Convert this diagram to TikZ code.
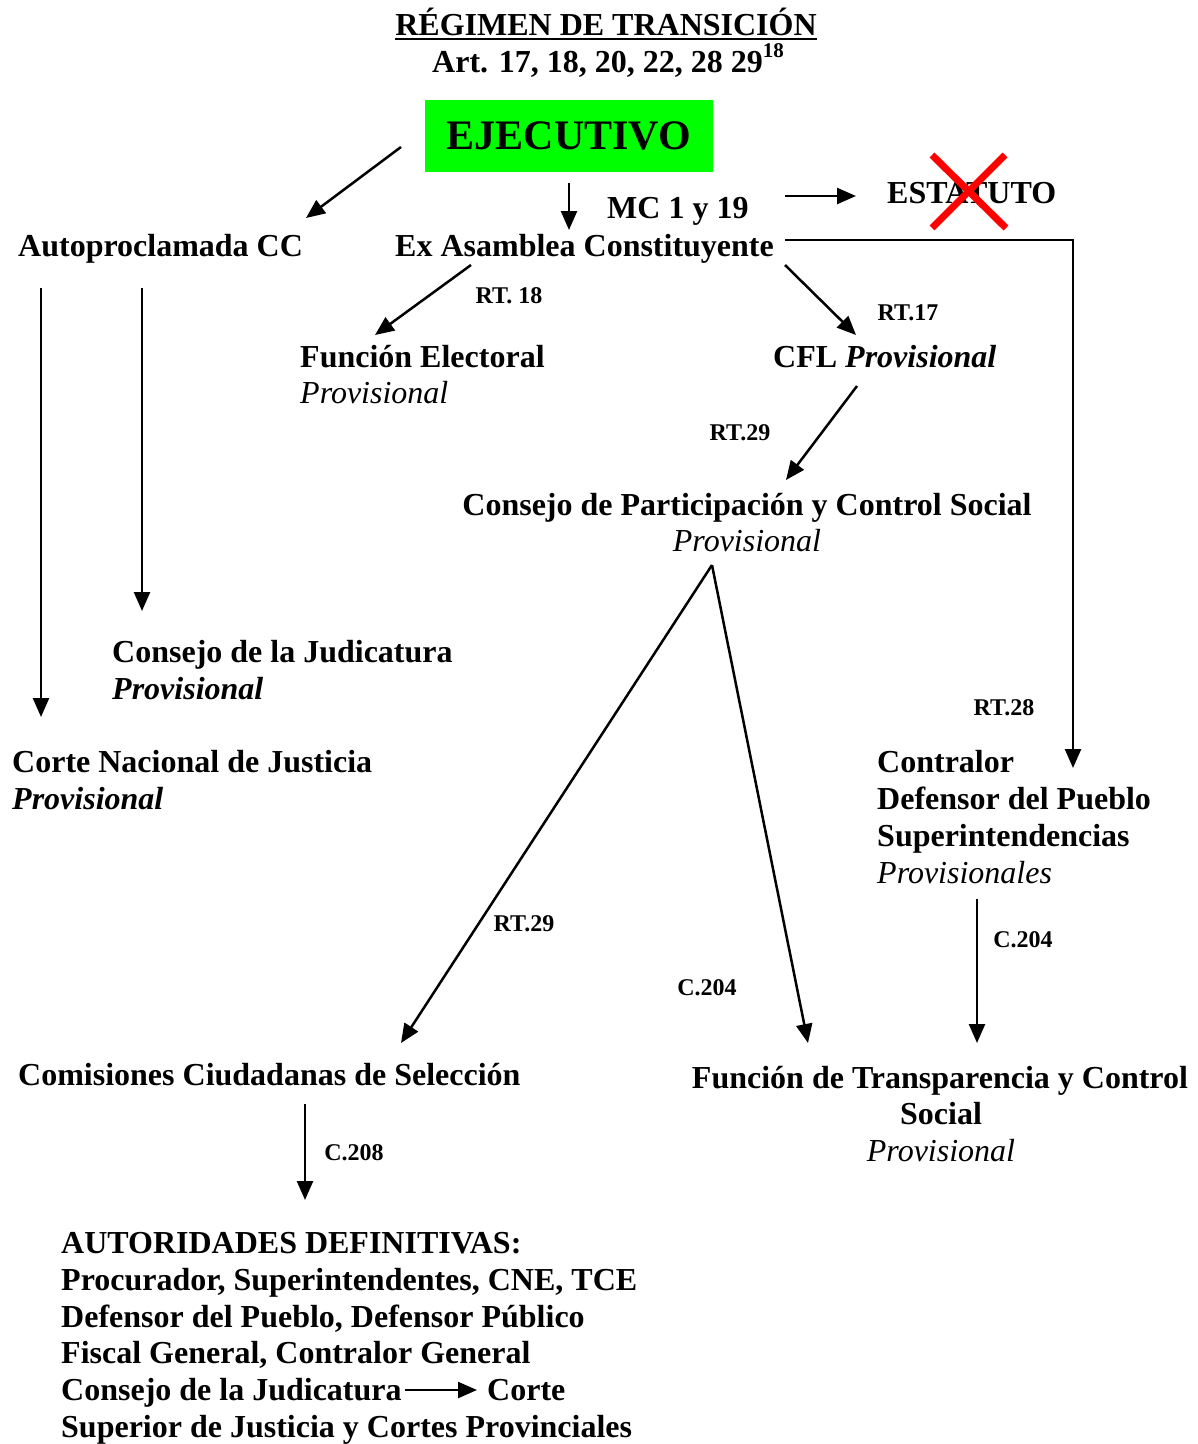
\documentclass[tikz,border=0pt]{standalone}
\usepackage{fontspec}
\setmainfont{Liberation Serif}
\usetikzlibrary{arrows.meta}
\definecolor{exgreen}{RGB}{0,255,0}
\definecolor{xred}{RGB}{255,0,0}
\begin{document}
\begin{tikzpicture}[x=1pt,y=-1pt,
  txt/.style={anchor=base west,inner sep=0pt,font=\fontsize{32}{37}\selectfont\bfseries},
  ctxt/.style={anchor=base,inner sep=0pt,font=\fontsize{32}{37}\selectfont\bfseries},
  itx/.style={anchor=base west,inner sep=0pt,font=\fontsize{32}{37}\selectfont\itshape},
  citx/.style={anchor=base,inner sep=0pt,font=\fontsize{32}{37}\selectfont\itshape},
  bitx/.style={anchor=base west,inner sep=0pt,font=\fontsize{32}{37}\selectfont\bfseries\itshape},
  lbl/.style={inner sep=0pt,font=\fontsize{24}{28}\selectfont\bfseries},
  arr/.style={line width=2.5pt,-{Triangle[length=19pt,width=16pt]}},
  cross/.style={line width=7pt,xred}]
\useasboundingbox (0,0) rectangle (1198,1444);

% title
\node[ctxt] (t1) at (606,35) {RÉGIMEN DE TRANSICIÓN};
\draw[line width=2.5pt] ([yshift=-4pt]t1.base west) -- ([yshift=-4pt]t1.base east);
\node[txt] (t2) at (432,72) {Art. 17, 18, 20, 22, 28 29\raisebox{15pt}{\fontsize{21}{21}\selectfont 18}};

% executive
\node[fill=exgreen,minimum width=288pt,minimum height=72pt,inner sep=0pt,
      font=\fontsize{42}{46}\selectfont\bfseries] (ejec) at (569,136) {EJECUTIVO};

% main nodes
\node[txt] (auto) at (18,256) {Autoproclamada CC};
\node[txt] (exas) at (395,256) {Ex Asamblea Constituyente};
\node[txt] (mc) at (607,218) {MC 1 y 19};
\node[txt] (est) at (887,203) {ESTATUTO};
\draw[cross] (932,155) -- (1006,228);
\draw[cross] (1005,155) -- (932,228);

\node[txt] (fe) at (300,367) {Función Electoral};
\node[itx] (fep) at (300,403) {Provisional};
\node[txt] (cfl) at (773,367) {CFL \textit{Provisional}};

\node[ctxt] (cpc) at (747,515) {Consejo de Participación y Control Social};
\node[citx] (cpcp) at (747,551) {Provisional};

\node[txt] (cj) at (112,662) {Consejo de la Judicatura};
\node[bitx] (cjp) at (112,699) {Provisional};
\node[txt] (cnj) at (12,772) {Corte Nacional de Justicia};
\node[bitx] (cnjp) at (12,809) {Provisional};

\node[txt] (con1) at (877,772) {Contralor};
\node[txt] (con2) at (877,809) {Defensor del Pueblo};
\node[txt] (con3) at (877,846) {Superintendencias};
\node[itx] (con4) at (877,883) {Provisionales};

\node[ctxt] (ft1) at (940,1088) {Función de Transparencia y Control};
\node[ctxt] (ft2) at (941,1124) {Social};
\node[citx] (ft3) at (941,1161) {Provisional};

\node[txt] (ccs) at (18,1085) {Comisiones Ciudadanas de Selección};

\node[txt] (ad1) at (61,1253) {AUTORIDADES DEFINITIVAS:};
\node[txt] (ad2) at (61,1290) {Procurador, Superintendentes, CNE, TCE};
\node[txt] (ad3) at (61,1327) {Defensor del Pueblo, Defensor Público};
\node[txt] (ad4) at (61,1363) {Fiscal General, Contralor General};
\node[txt] (ad5) at (61,1400) {Consejo de la Judicatura};
\node[txt] (ad5b) at (487,1400) {Corte};
\node[txt] (ad6) at (61,1437) {Superior de Justicia y Cortes Provinciales};

% labels
\node[lbl] (l18) at (509,296) {RT. 18};
\node[lbl] (l17) at (908,313) {RT.17};
\node[lbl] (l29a) at (740,433) {RT.29};
\node[lbl] (l29b) at (524,924) {RT.29};
\node[lbl] (l204a) at (707,988) {C.204};
\node[lbl] (l28) at (1004,708) {RT.28};
\node[lbl] (l204b) at (1023,940) {C.204};
\node[lbl] (l208) at (354,1153) {C.208};

% connector end points
\coordinate (ejL) at (401,147);   \coordinate (autoT) at (306,218);
\coordinate (ejD) at (569,183);   \coordinate (exasT) at (569,230);
\coordinate (mcR) at (785,196);   \coordinate (estL) at (856,196);
\coordinate (exasR) at (785,240); \coordinate (elb) at (1073,240); \coordinate (conT) at (1073,768);
\coordinate (exasBL) at (471,265); \coordinate (feT) at (375,335);
\coordinate (exasBR) at (785,265); \coordinate (cflT) at (856,335);
\coordinate (cflB) at (857,386);  \coordinate (cpcT) at (786,480);
\coordinate (autoB1) at (41,288); \coordinate (cnjT) at (41,717);
\coordinate (autoB2) at (142,288); \coordinate (cjT) at (142,611);
\coordinate (cpcB) at (712,565);  \coordinate (ccsT) at (401,1043); \coordinate (ftT1) at (808,1043);
\coordinate (conB) at (977,899);  \coordinate (ftT2) at (977,1043);
\coordinate (ccsB) at (305,1104); \coordinate (adT) at (305,1200);
\coordinate (ad5R) at (405,1390); \coordinate (ad5bL) at (477,1390);

% connectors
\draw[arr] (ejL) -- (autoT);
\draw[arr] (ejD) -- (exasT);
\draw[arr] (mcR) -- (estL);
\draw[arr] (exasR) -- (elb) -- (conT);
\draw[arr] (exasBL) -- (feT);
\draw[arr] (exasBR) -- (cflT);
\draw[arr] (cflB) -- (cpcT);
\draw[arr] (autoB1) -- (cnjT);
\draw[arr] (autoB2) -- (cjT);
\draw[arr] (cpcB) -- (ccsT);
\draw[arr] (cpcB) -- (ftT1);
\draw[arr] (conB) -- (ftT2);
\draw[arr] (ccsB) -- (adT);
\draw[arr] (ad5R) -- (ad5bL);
\end{tikzpicture}
\end{document}
